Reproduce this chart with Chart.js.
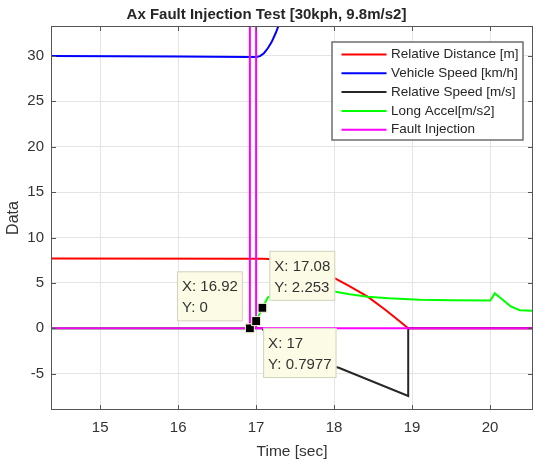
<!DOCTYPE html>
<html>
<head>
<meta charset="utf-8">
<script src="https://cdn.jsdelivr.net/npm/chart.js@4.4.0/dist/chart.umd.min.js"></script>
<style>
  html, body { margin: 0; padding: 0; background: #fff; }
  #wrap { width: 535px; height: 462px; }
</style>
</head>
<body>
<div id="wrap"><canvas id="FaultChart" width="535" height="462"></canvas></div>
<script>
"use strict"

const xTicks = [15, 16, 17, 18, 19, 20];
const yTicks = [-5, 0, 5, 10, 15, 20, 25, 30];

const distTime = [14.37, 17.1, 17.3, 17.6, 17.8, 18.0, 18.19, 18.43, 18.66, 18.8, 18.95, 20.55];
const distVal  = [7.7, 7.65, 7.55, 6.9, 6.3, 5.55, 4.66, 3.48, 2.02, 1.05, 0, 0];

const speedTime = [14.37, 16.0, 16.9, 17.0, 17.05, 17.1, 17.15, 17.2, 17.25, 17.3, 17.35, 17.4];
const speedVal  = [30.0, 29.95, 29.88, 29.88, 29.98, 30.3, 30.85, 31.55, 32.5, 33.6, 34.7, 35.9];

const relTime = [14.37, 17.08, 17.2, 17.4, 17.7, 18.06, 18.95, 18.95, 20.55];
const relVal  = [0, 0, -1.8, -2.9, -3.6, -4.35, -7.45, 0, 0];

const accelTime = [14.37, 16.92, 17.0, 17.08, 17.15, 17.25, 17.4, 17.7, 18.0, 18.2, 18.43, 18.7, 19.1, 19.5, 20.0, 20.02, 20.06, 20.13, 20.26, 20.38, 20.55];
const accelVal  = [0, 0, 0.7977, 2.253, 3.4, 3.9, 4.4, 4.5, 4.05, 3.75, 3.48, 3.3, 3.15, 3.08, 3.05, 3.3, 3.85, 3.37, 2.45, 2.0, 1.92];

const faultTime = [14.37, 16.92, 16.92, 17.0, 17.0, 20.55];
const faultVal  = [0, 0, 40, 40, 0, 0];

const seriesNames = ["Relative Distance [m]", "Vehicle Speed [km/h]", "Relative Speed [m/s]", "Long Accel[m/s2]", "Fault Injection"];
const seriesColors = ["#ff0000", "#0000ff", "#262626", "#00ff00", "#ff00ff"];

// data tips (MATLAB style), and which corner each box sits on
const tipX = [16.92, 17, 17.08];
const tipY = [0, 0.7977, 2.253];
const tipSide = ["nw", "se", "ne"];

const FONT = "'Liberation Sans', Arial, sans-serif";
Chart.defaults.font.family = FONT;

function toPoints(ts, vs) {
    return ts.map((t, i) => ({ x: t, y: vs[i] }));
}

const allSeries = [
    [distTime, distVal],
    [speedTime, speedVal],
    [relTime, relVal],
    [accelTime, accelVal],
    [faultTime, faultVal]
];

const overlay = {
    id: 'overlay',
    afterDraw(chart) {
        const ctx = chart.ctx;
        const area = chart.chartArea;
        const x = chart.scales.x, y = chart.scales.y;
        ctx.save();

        // box + inward ticks
        ctx.strokeStyle = '#555';
        ctx.lineWidth = 1;
        ctx.strokeRect(area.left + 0.5, area.top + 0.5, area.width - 1, area.height - 1);
        ctx.beginPath();
        xTicks.forEach(v => {
            const px = Math.round(x.getPixelForValue(v)) + 0.5;
            ctx.moveTo(px, area.bottom); ctx.lineTo(px, area.bottom - 5);
            ctx.moveTo(px, area.top); ctx.lineTo(px, area.top + 5);
        });
        yTicks.forEach(v => {
            const py = Math.round(y.getPixelForValue(v)) + 0.5;
            ctx.moveTo(area.left, py); ctx.lineTo(area.left + 5, py);
            ctx.moveTo(area.right, py); ctx.lineTo(area.right - 5, py);
        });
        ctx.stroke();

        // legend
        const lgW = 191, lgH = 98;
        const lgX = area.right - 10 - lgW, lgY = area.top + 16;
        ctx.fillStyle = '#fff';
        ctx.fillRect(lgX, lgY, lgW, lgH);
        ctx.strokeStyle = '#6e6e6e';
        ctx.lineWidth = 1.5;
        ctx.strokeRect(lgX, lgY, lgW, lgH);
        ctx.font = '13.5px ' + FONT;
        ctx.textBaseline = 'middle';
        ctx.textAlign = 'left';
        seriesNames.forEach((name, i) => {
            const ry = lgY + 12.5 + i * 18.8;
            ctx.strokeStyle = seriesColors[i];
            ctx.lineWidth = 2;
            ctx.beginPath();
            ctx.moveTo(lgX + 9.5, ry);
            ctx.lineTo(lgX + 54.5, ry);
            ctx.stroke();
            ctx.fillStyle = '#262626';
            ctx.fillText(name, lgX + 59, ry);
        });

        // data tips
        ctx.font = '15px ' + FONT;
        const pts = [];
        tipX.forEach((tx, i) => {
            const px = x.getPixelForValue(tx), py = y.getPixelForValue(tipY[i]);
            pts.push([px, py]);
            const lines = ['X: ' + tx, 'Y: ' + tipY[i]];
            const w = Math.max(...lines.map(s => ctx.measureText(s).width)) + 10;
            const h = 50;
            const side = tipSide[i];
            const bx = side[1] === 'e' ? px + 7 : px - 7 - w;
            const by = side[0] === 's' ? py + 7 : py - 7 - h;
            ctx.fillStyle = '#fbfbe6';
            ctx.fillRect(bx, by, w, h);
            ctx.strokeStyle = '#d2d2c0';
            ctx.lineWidth = 1;
            ctx.strokeRect(bx + 0.5, by + 0.5, w - 1, h - 1);
            ctx.fillStyle = '#333';
            ctx.fillText(lines[0], bx + 5, by + 16);
            ctx.fillText(lines[1], bx + 5, by + 37);
        });
        pts.forEach(([px, py]) => {
            ctx.fillStyle = '#000';
            ctx.fillRect(px - 4, py - 4, 8, 8);
            ctx.strokeStyle = '#e8e8cc';
            ctx.lineWidth = 1;
            ctx.strokeRect(px - 4.5, py - 4.5, 9, 9);
        });

        ctx.restore();
    }
};

new Chart("FaultChart", {
    type: "line",
    data: {
        datasets: allSeries.map((s, i) => ({
            label: seriesNames[i],
            data: toPoints(s[0], s[1]),
            borderColor: seriesColors[i],
            backgroundColor: seriesColors[i],
            borderWidth: 2,
            pointRadius: 0,
            tension: 0,
            fill: false,
            clip: 0,
            order: allSeries.length - i
        }))
    },
    options: {
        responsive: false,
        animation: false,
        events: [],
        layout: { padding: { left: 0, right: 2, top: 0, bottom: 0 } },
        plugins: {
            legend: { display: false },
            tooltip: { enabled: false },
            title: {
                display: true,
                text: "Ax Fault Injection Test [30kph, 9.8m/s2]",
                color: '#262626',
                font: { size: 15, weight: 'bold' },
                padding: { top: 6, bottom: 2 }
            }
        },
        scales: {
            x: {
                type: 'linear',
                min: 14.37,
                max: 20.55,
                afterBuildTicks: s => { s.ticks = xTicks.map(v => ({ value: v })); },
                afterFit: s => { s.height = 52; },
                grid: { color: '#e4e4e4', drawTicks: false },
                border: { display: false },
                ticks: { color: '#333', font: { size: 15 }, padding: 9, maxRotation: 0, autoSkip: false },
                title: { display: true, text: 'Time [sec]', color: '#333', font: { size: 15.5 }, padding: { top: 0, bottom: 1 } }
            },
            y: {
                type: 'linear',
                min: -9,
                max: 33.3,
                afterBuildTicks: s => { s.ticks = yTicks.map(v => ({ value: v })); },
                afterFit: s => { s.width = 51; },
                grid: { color: '#e4e4e4', drawTicks: false },
                border: { display: false },
                ticks: { color: '#333', font: { size: 15 }, padding: 7, autoSkip: false },
                title: { display: true, text: 'Data', color: '#333', font: { size: 16 }, padding: { top: 4, bottom: 0 } }
            }
        }
    },
    plugins: [overlay]
});
</script>
</body>
</html>
